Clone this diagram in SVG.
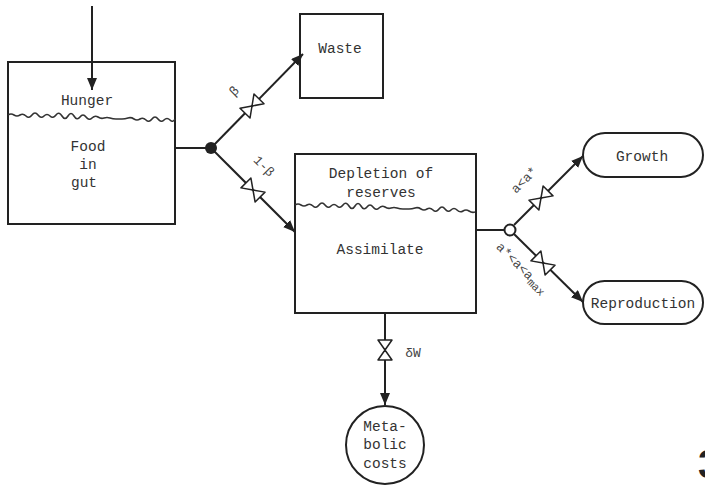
<svg xmlns="http://www.w3.org/2000/svg" width="705" height="490" viewBox="0 0 705 490">
<style>
.box{fill:none;stroke:#222;stroke-width:2}
.ln{fill:none;stroke:#222;stroke-width:2}
.wv{fill:none;stroke:#333;stroke-width:1.6}
.t{font-family:"Liberation Mono","DejaVu Sans Mono",monospace;font-size:14.5px;fill:#333;text-anchor:middle}
.lb{font-family:"Liberation Mono","DejaVu Sans Mono",monospace;font-size:13px;fill:#444;text-anchor:middle}
</style>
<defs>
<marker id="ah" viewBox="0 0 12 10" refX="12" refY="5" markerWidth="12" markerHeight="10" markerUnits="userSpaceOnUse" orient="auto">
<path d="M0,0 L12,5 L0,10 Z" fill="#222"/>
</marker>
<g id="valve">
<path d="M-10,-7 L-10,7 L0,0 Z M10,-7 L10,7 L0,0 Z" fill="#fff" stroke="#222" stroke-width="1.5" stroke-linejoin="round"/>
</g>
</defs>
<rect width="705" height="490" fill="#fff"/>

<g id="connectors">
<line class="ln" x1="92" y1="6" x2="92" y2="90" marker-end="url(#ah)"/>
<line class="ln" x1="175" y1="148" x2="211" y2="148"/>
<line class="ln" x1="211" y1="148" x2="303" y2="54" marker-end="url(#ah)"/>
<line class="ln" x1="211" y1="148" x2="295" y2="232" marker-end="url(#ah)"/>
<line class="ln" x1="476" y1="230" x2="505" y2="230"/>
<line class="ln" x1="514" y1="225" x2="583" y2="156" marker-end="url(#ah)"/>
<line class="ln" x1="514" y1="234" x2="583" y2="302" marker-end="url(#ah)"/>
<line class="ln" x1="385" y1="313" x2="385" y2="405" marker-end="url(#ah)"/>
<circle cx="211" cy="148" r="6" fill="#222"/>
<circle cx="510" cy="230" r="5.5" fill="#fff" stroke="#222" stroke-width="2"/>
<use href="#valve" transform="translate(252,106) rotate(-45.6)"/>
<use href="#valve" transform="translate(253,190) rotate(45)"/>
<use href="#valve" transform="translate(541,198) rotate(-45)"/>
<use href="#valve" transform="translate(543,263) rotate(45)"/>
<use href="#valve" transform="translate(385,350) rotate(90)"/>
<text class="lb" transform="translate(237,94) rotate(-45)" font-size="14">β</text>
<text class="lb" transform="translate(261,169) rotate(45)">1-β</text>
<text class="lb" transform="translate(527,183) rotate(-45)">a&lt;a*</text>
<text class="lb" transform="translate(519,271) rotate(45)">a*&lt;a&lt;a<tspan font-size="11" dy="3">max</tspan></text>
<text class="lb" x="413" y="357" font-size="11.5">δW</text>
</g>

<g id="food-in-gut">
<rect class="box" x="8" y="62" width="167" height="162"/>
<path class="wv" d="M8,115 q3,-2 6,0 t6,0 t6,1 t6,-1 t6,0 t6,1 t6,0 t6,-1 t6,1 t6,0 t6,0 t6,1 t6,0 t6,1 t6,-1 t6,1 t6,0 t6,1 t6,0 t6,-1 t6,1 t6,0 t6,1 t6,-1 t6,0 t6,1 t6,0 t5,-1"/>
<text class="t" x="87" y="105">Hunger</text>
<text class="t" x="88" y="151">Food</text>
<text class="t" x="88" y="169">in</text>
<text class="t" x="84" y="187">gut</text>
</g>

<g id="waste">
<rect class="box" x="300" y="14" width="83" height="84"/>
<text class="t" x="340" y="53" font-size="13.5">Waste</text>
</g>

<g id="assimilate">
<rect class="box" x="295" y="154" width="181" height="159"/>
<path class="wv" d="M295,205 q3,-2 6,0 t6,0 t6,1 t6,-1 t6,0 t6,1 t6,0 t6,-1 t6,1 t6,0 t6,0 t6,1 t6,0 t6,1 t6,-1 t6,1 t6,0 t6,1 t6,0 t6,-1 t6,1 t6,0 t6,1 t6,-1 t6,0 t6,1 t6,0 t6,1 t6,0 t6,1"/>
<text class="t" x="381" y="178">Depletion of</text>
<text class="t" x="381" y="197">reserves</text>
<text class="t" x="380" y="254">Assimilate</text>
</g>

<g id="growth">
<rect class="box" x="583" y="133" width="120" height="44" rx="22"/>
<text class="t" x="642" y="161">Growth</text>
</g>

<g id="reproduction">
<rect class="box" x="583" y="281" width="120" height="43" rx="21.5"/>
<text class="t" x="643" y="308">Reproduction</text>
</g>

<g id="metabolic-costs">
<circle class="box" cx="385" cy="445" r="39"/>
<text class="t" x="385" y="431">Meta-</text>
<text class="t" x="385" y="449">bolic</text>
<text class="t" x="385" y="468">costs</text>
</g>

<text x="698" y="478" font-family="Liberation Sans, sans-serif" font-size="40" font-weight="bold" fill="#222">3</text>
</svg>
